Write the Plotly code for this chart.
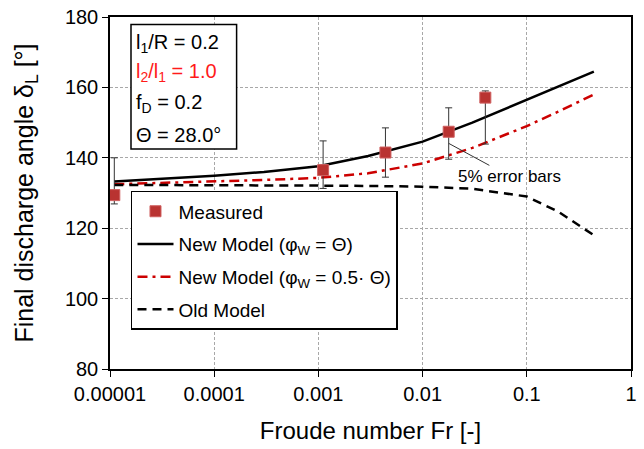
import plotly.graph_objects as go
import numpy as np

# Model curves
fr_model = [1.1e-5, 3e-5, 1e-4, 3e-4, 1e-3, 3e-3, 1e-2, 3e-2, 1e-1, 2e-1, 4.4e-1]
new_full = [133.3, 134.1, 134.9, 136.0, 137.6, 140.5, 144.6, 150.0, 156.4, 160.3, 164.5]
new_half = [132.5, 132.8, 133.2, 133.7, 134.3, 135.6, 138.4, 142.8, 149.0, 153.1, 158.0]
old_model = [132.3, 132.3, 132.2, 132.2, 132.1, 132.0, 131.8, 131.2, 129.0, 124.7, 118.0]

# Measured data
fr_meas = [1.1e-5, 1.11e-3, 4.4e-3, 0.0178, 0.040]
meas = [129.4, 136.5, 141.5, 147.4, 157.1]
err_plus = [10.6, 8.3, 7.0, 6.8, 1.9]
err_minus = [2.5, 5.2, 7.0, 7.8, 13.2]

x_tickvals = [1e-5, 1e-4, 1e-3, 1e-2, 1e-1, 1]
x_ticktext = ["0.00001", "0.0001", "0.001", "0.01", "0.1", "1"]
y_tickvals = [80, 100, 120, 140, 160, 180]

FONT = "Liberation Sans, Arial, sans-serif"

fig = go.Figure()

fig.add_trace(go.Scatter(
    x=fr_model, y=new_full, mode="lines", name="New Model (φ<sub>W</sub> = Θ)",
    line=dict(color="black", width=2.5), legendgroup="b", legendrank=2))
fig.add_trace(go.Scatter(
    x=fr_model, y=new_half, mode="lines", name="New Model (φ<sub>W</sub> = 0.5· Θ)",
    line=dict(color="#cc0000", width=2.5, dash="10px,5px,3px,5px"), legendgroup="c", legendrank=3))
fig.add_trace(go.Scatter(
    x=fr_model, y=old_model, mode="lines", name="Old Model",
    line=dict(color="black", width=2.5, dash="9px,6px"), legendgroup="d", legendrank=4))
fig.add_trace(go.Scatter(
    x=fr_meas, y=meas, mode="markers", name="Measured",
    marker=dict(symbol="square", size=11, color="#b93331", line=dict(color="#cf5f5f", width=1)),
    error_y=dict(type="data", symmetric=False, array=err_plus, arrayminus=err_minus,
                 color="#333333", thickness=1, width=3.5),
    legendgroup="a", legendrank=1))

# Parameter box
fig.add_shape(type="rect", xref="paper", yref="paper",
              x0=0.0403, x1=0.243, y0=0.625, y1=0.979,
              line=dict(color="black", width=1.5), fillcolor="white", layer="above")
box_lines = [
    ("l<sub>1</sub>/R = 0.2", "black", 0.925),
    ("l<sub>2</sub>/l<sub>1</sub> = 1.0", "#ff1a1a", 0.842),
    ("f<sub>D</sub> = 0.2", "black", 0.755),
    ("Θ = 28.0°", "black", 0.665),
]
for txt, col, yy in box_lines:
    fig.add_annotation(text=txt, xref="paper", yref="paper", x=0.046, y=yy,
                       xanchor="left", yanchor="middle", showarrow=False,
                       font=dict(size=20, color=col, family=FONT))

# Error-bar note
fig.add_annotation(text="5% error bars", x=np.log10(0.0178), y=144.1, xref="x", yref="y",
                   showarrow=True, arrowhead=0, arrowwidth=1, arrowcolor="#333333",
                   ax=61, ay=33, standoff=0,
                   font=dict(size=17, color="black", family=FONT))

fig.update_xaxes(type="log", range=[-5, 0], tickvals=x_tickvals, ticktext=x_ticktext,
                 showgrid=True, gridcolor="#a8a8a8", griddash="3px,2px", gridwidth=1,
                 showline=True, linecolor="black", linewidth=1.5, mirror=True,
                 ticks="outside", ticklen=6, tickcolor="black",
                 tickfont=dict(size=20, color="black", family=FONT),
                 title=dict(text="Froude number Fr [-]", font=dict(size=24, color="black", family=FONT), standoff=18))
fig.update_yaxes(range=[80, 180], tickvals=y_tickvals,
                 showgrid=True, gridcolor="#a8a8a8", griddash="3px,2px", gridwidth=1,
                 showline=True, linecolor="black", linewidth=1.5, mirror=True,
                 ticks="outside", ticklen=6, tickcolor="black", zeroline=False,
                 tickfont=dict(size=20, color="black", family=FONT),
                 title=dict(text="Final discharge angle δ<sub>L</sub> [°]", font=dict(size=25, color="black", family=FONT), standoff=24))

fig.update_layout(
    width=644, height=449,
    margin=dict(l=110, r=13, t=17, b=80, autoexpand=False),
    paper_bgcolor="white", plot_bgcolor="white",
    font=dict(family=FONT, color="black"),
    showlegend=True,
    legend=dict(x=0.0403, y=0.506, xanchor="left", yanchor="top",
                bgcolor="white", bordercolor="black", borderwidth=1.5,
                font=dict(size=19, color="black", family=FONT),
                traceorder="grouped", tracegroupgap=5, itemwidth=36),
)

fig.write_html("out.html", config={"displayModeBar": False},
               post_script="document.body.style.margin='0';document.body.style.overflow='hidden';")
